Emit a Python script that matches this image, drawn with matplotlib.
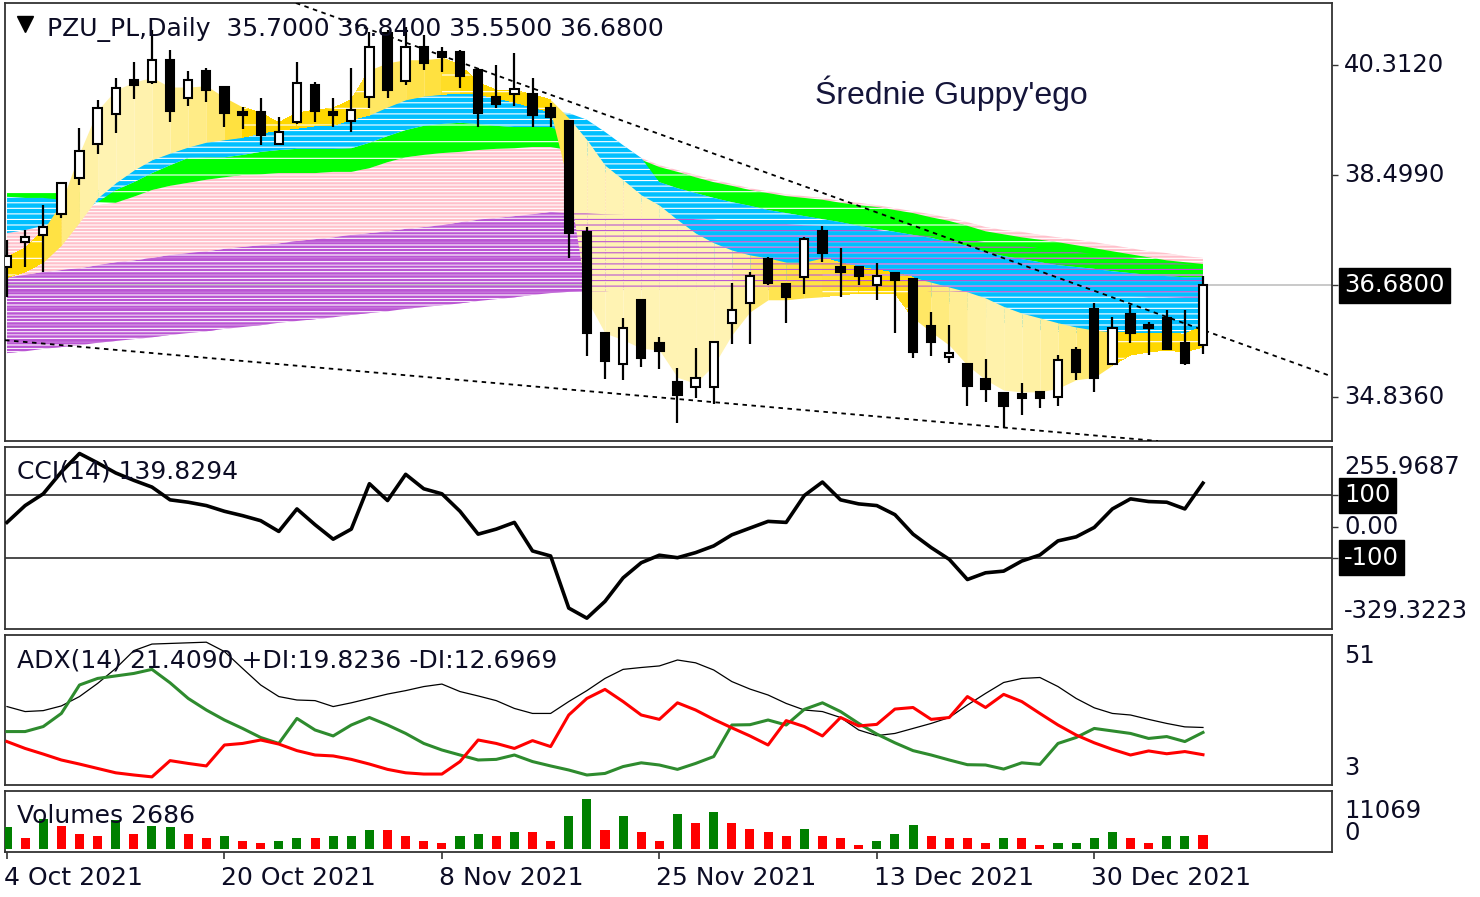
import matplotlib
matplotlib.use("Agg")
import matplotlib.pyplot as plt
import matplotlib.transforms as mtransforms
import matplotlib.colors as mcolors
import numpy as np

# --- dane: świece dzienne PZU_PL (4 Oct 2021 - 4 Jan 2022) ---
date_labels = ["4 Oct 2021", "20 Oct 2021", "8 Nov 2021", "25 Nov 2021", "13 Dec 2021", "30 Dec 2021"]
date_bars = [0, 12, 24, 36, 48, 60]

opens = [36.98, 37.39, 37.51, 37.85, 38.45, 39.01, 39.50, 40.07, 40.03, 40.39,
         39.77, 40.21, 39.95, 39.54, 39.54, 39.01, 39.37, 39.98, 39.54, 39.39,
         39.78, 40.84, 40.05, 40.61, 40.53, 40.53, 40.23, 39.78, 39.83, 39.83,
         39.60, 39.39, 37.56, 35.89, 35.38, 36.43, 35.72, 35.08, 35.00, 35.00,
         36.05, 36.38, 37.11, 36.70, 36.81, 37.57, 36.98, 36.98, 36.68, 36.88,
         36.78, 36.00, 35.49, 35.38, 35.13, 34.90, 34.88, 34.92, 34.83, 35.61,
         36.29, 35.38, 36.20, 36.02, 36.14, 35.72, 35.70]
highs = [37.42, 37.59, 38.00, 38.37, 39.27, 39.74, 40.10, 40.36, 40.89, 40.56,
         40.21, 40.26, 39.95, 39.62, 39.77, 39.45, 40.36, 40.03, 39.77, 40.26,
         40.86, 40.89, 40.94, 40.81, 40.61, 40.56, 40.26, 40.31, 40.51, 40.10,
         39.69, 39.39, 37.64, 35.89, 36.14, 36.43, 35.82, 35.31, 35.64, 35.74,
         36.71, 36.90, 37.14, 36.70, 37.47, 37.66, 37.29, 36.98, 37.04, 36.88,
         36.78, 36.24, 36.02, 35.38, 35.46, 34.90, 35.06, 34.92, 35.53, 35.66,
         36.38, 36.15, 36.35, 36.07, 36.27, 36.27, 36.84]
lows = [36.48, 36.98, 36.90, 37.79, 38.33, 38.84, 39.19, 39.75, 40.00, 39.37,
        39.64, 39.70, 39.29, 39.26, 38.99, 39.01, 39.34, 39.37, 39.29, 39.21,
        39.60, 39.77, 39.98, 40.23, 40.20, 39.93, 39.29, 39.60, 39.64, 39.29,
        39.29, 37.13, 35.51, 35.13, 35.11, 35.33, 35.30, 34.40, 34.82, 34.72,
        35.71, 35.71, 36.68, 36.05, 36.53, 37.06, 36.48, 36.68, 36.43, 35.89,
        35.48, 35.51, 35.39, 34.69, 34.75, 34.32, 34.54, 34.65, 34.69, 35.11,
        34.92, 35.38, 35.72, 35.53, 35.61, 35.36, 35.55]
closes = [37.16, 37.47, 37.64, 38.36, 38.89, 39.60, 39.93, 39.98, 40.39, 39.55,
          40.07, 39.90, 39.52, 39.49, 39.16, 39.21, 40.02, 39.55, 39.49, 39.57,
          40.61, 39.90, 40.61, 40.35, 40.44, 40.13, 39.52, 39.67, 39.92, 39.49,
          39.45, 37.54, 35.89, 35.43, 35.97, 35.48, 35.59, 34.87, 35.15, 35.74,
          36.27, 36.83, 36.71, 36.48, 37.44, 37.21, 36.90, 36.83, 36.83, 36.76,
          35.58, 35.74, 35.56, 35.02, 34.97, 34.69, 34.82, 34.82, 35.44, 35.25,
          35.15, 35.97, 35.89, 35.97, 35.63, 35.39, 36.68]

# --- wstęgi Guppy'ego: górna i dolna krawędź każdej grupy (odczyt z wykresu) ---
yellow_hi = [37.14, 37.29, 37.59, 38.04, 38.86, 39.57, 39.90, 40.03, 40.11, 39.95,
             39.95, 39.97, 39.78, 39.62, 39.52, 39.36, 39.52, 39.57, 39.60, 39.74,
             40.23, 40.35, 40.40, 40.40, 40.43, 40.31, 40.02, 39.90, 39.90, 39.82,
             39.74, 39.44, 39.08, 38.66, 38.42, 38.17, 38.00, 37.76, 37.54, 37.38,
             37.26, 37.18, 37.13, 37.06, 37.06, 37.13, 37.05, 36.98, 36.93, 36.88,
             36.81, 36.73, 36.65, 36.57, 36.47, 36.33, 36.22, 36.14, 36.06, 35.99,
             35.94, 35.91, 35.89, 35.89, 35.89, 35.87, 36.01]
yellow_lo = [36.81, 36.90, 37.06, 37.34, 37.72, 38.12, 38.37, 38.58, 38.75, 38.86,
             38.96, 39.04, 39.08, 39.12, 39.19, 39.24, 39.27, 39.31, 39.32, 39.41,
             39.49, 39.62, 39.74, 39.80, 39.83, 39.85, 39.83, 39.77, 39.70, 39.62,
             39.54, 38.33, 36.44, 35.89, 35.78, 35.64, 35.61, 35.16, 35.06, 35.36,
             35.86, 36.24, 36.44, 36.44, 36.47, 36.49, 36.52, 36.55, 36.55, 36.55,
             36.14, 35.91, 35.69, 35.36, 35.12, 34.95, 34.92, 34.92, 34.98, 35.12,
             35.16, 35.36, 35.53, 35.58, 35.61, 35.58, 35.66]
blue_hi = [38.14, 38.12, 38.12, 38.09, 38.09, 38.17, 38.37, 38.58, 38.75, 38.86,
           38.96, 39.04, 39.08, 39.12, 39.19, 39.24, 39.27, 39.31, 39.32, 39.41,
           39.49, 39.62, 39.74, 39.80, 39.83, 39.85, 39.83, 39.77, 39.70, 39.62,
           39.54, 39.52, 39.41, 39.21, 38.99, 38.78, 38.38, 38.28, 38.20, 38.12,
           38.05, 37.99, 37.92, 37.87, 37.82, 37.77, 37.72, 37.66, 37.61, 37.56,
           37.51, 37.46, 37.39, 37.33, 37.23, 37.16, 37.11, 37.06, 37.01, 36.98,
           36.95, 36.91, 36.88, 36.85, 36.83, 36.81, 36.81]
blue_lo = [37.54, 37.59, 37.66, 37.76, 37.89, 38.05, 38.25, 38.38, 38.53, 38.66,
           38.78, 38.79, 38.79, 38.83, 38.88, 38.91, 38.93, 38.93, 38.93, 38.94,
           39.03, 39.14, 39.24, 39.31, 39.34, 39.36, 39.34, 39.31, 39.29, 39.29,
           39.29, 39.16, 38.83, 38.55, 38.30, 38.03, 37.80, 37.56, 37.34, 37.13,
           37.01, 36.90, 36.81, 36.75, 36.71, 36.70, 36.68, 36.66, 36.65, 36.62,
           36.57, 36.48, 36.38, 36.27, 36.15, 36.06, 35.99, 35.94, 35.91, 35.89,
           35.89, 35.89, 35.89, 35.89, 35.89, 35.89, 35.94]
green_hi = [38.20, 38.20, 38.20, 38.20, 38.22, 38.25, 38.25, 38.38, 38.53, 38.66,
            38.78, 38.79, 38.79, 38.83, 38.88, 38.91, 38.93, 38.93, 38.93, 38.94,
            39.03, 39.14, 39.24, 39.31, 39.34, 39.36, 39.34, 39.31, 39.29, 39.29,
            39.29, 39.27, 39.19, 39.08, 38.91, 38.75, 38.63, 38.55, 38.46, 38.38,
            38.32, 38.25, 38.20, 38.15, 38.12, 38.09, 38.04, 38.00, 37.97, 37.92,
            37.87, 37.80, 37.74, 37.66, 37.57, 37.52, 37.47, 37.43, 37.39, 37.34,
            37.29, 37.24, 37.19, 37.14, 37.09, 37.06, 37.03]
green_lo = [38.12, 38.10, 38.09, 38.09, 38.07, 38.05, 38.04, 38.14, 38.25, 38.32,
            38.37, 38.42, 38.46, 38.50, 38.51, 38.53, 38.53, 38.53, 38.55, 38.55,
            38.61, 38.71, 38.79, 38.83, 38.86, 38.88, 38.91, 38.93, 38.94, 38.96,
            38.96, 38.91, 38.83, 38.75, 38.63, 38.50, 38.38, 38.28, 38.20, 38.12,
            38.05, 37.99, 37.92, 37.87, 37.82, 37.77, 37.72, 37.66, 37.61, 37.56,
            37.51, 37.46, 37.39, 37.33, 37.23, 37.16, 37.11, 37.06, 37.01, 36.98,
            36.95, 36.91, 36.88, 36.85, 36.83, 36.81, 36.81]
pink_hi = [37.84, 37.87, 37.90, 37.94, 37.97, 38.00, 38.04, 38.14, 38.25, 38.32,
           38.37, 38.42, 38.46, 38.50, 38.51, 38.53, 38.53, 38.53, 38.55, 38.55,
           38.61, 38.71, 38.79, 38.83, 38.86, 38.88, 38.91, 38.93, 38.94, 38.96,
           38.96, 38.96, 38.94, 38.91, 38.86, 38.78, 38.66, 38.58, 38.50, 38.42,
           38.35, 38.28, 38.23, 38.18, 38.15, 38.12, 38.07, 38.04, 38.00, 37.95,
           37.90, 37.85, 37.79, 37.72, 37.64, 37.59, 37.56, 37.51, 37.47, 37.43,
           37.39, 37.34, 37.29, 37.24, 37.21, 37.16, 37.13]
pink_lo = [36.81, 36.85, 36.90, 36.93, 36.96, 37.01, 37.06, 37.09, 37.13, 37.18,
           37.21, 37.24, 37.28, 37.31, 37.34, 37.37, 37.41, 37.44, 37.47, 37.51,
           37.54, 37.57, 37.61, 37.64, 37.67, 37.72, 37.76, 37.79, 37.82, 37.85,
           37.89, 37.87, 37.84, 37.79, 37.74, 37.69, 37.64, 37.57, 37.51, 37.46,
           37.43, 37.39, 37.36, 37.34, 37.33, 37.31, 37.29, 37.28, 37.26, 37.24,
           37.21, 37.18, 37.14, 37.09, 37.05, 37.00, 36.96, 36.93, 36.90, 36.86,
           36.83, 36.80, 36.78, 36.77, 36.75, 36.73, 36.71]
violet_hi = [36.81, 36.85, 36.90, 36.93, 36.96, 37.01, 37.06, 37.09, 37.13, 37.18,
             37.21, 37.24, 37.28, 37.31, 37.34, 37.37, 37.41, 37.44, 37.47, 37.51,
             37.54, 37.57, 37.61, 37.64, 37.67, 37.72, 37.76, 37.79, 37.82, 37.85,
             37.89, 37.89, 37.87, 37.85, 37.84, 37.82, 37.80, 37.79, 37.77, 37.76,
             37.74, 37.72, 37.70, 37.69, 37.67, 37.66, 37.64, 37.62, 37.59, 37.56,
             37.52, 37.49, 37.46, 37.43, 37.39, 37.36, 37.33, 37.29, 37.26, 37.23,
             37.19, 37.16, 37.13, 37.09, 37.06, 37.03, 37.00]
violet_lo = [35.56, 35.59, 35.63, 35.66, 35.69, 35.73, 35.76, 35.79, 35.82, 35.86,
             35.89, 35.92, 35.96, 35.99, 36.02, 36.06, 36.09, 36.12, 36.15, 36.19,
             36.22, 36.25, 36.29, 36.32, 36.35, 36.38, 36.42, 36.45, 36.48, 36.52,
             36.55, 36.57, 36.58, 36.58, 36.60, 36.60, 36.60, 36.60, 36.60, 36.60,
             36.60, 36.60, 36.60, 36.60, 36.60, 36.60, 36.60, 36.60, 36.60, 36.60,
             36.60, 36.58, 36.58, 36.57, 36.57, 36.55, 36.55, 36.53, 36.53, 36.52,
             36.52, 36.50, 36.50, 36.48, 36.48, 36.47, 36.47]

# linie trendu: (bar, cena) dwóch punktów
upper_trend = [(16.0, 41.33), (72.6, 35.23)]
lower_trend = [(0.0, 35.77), (61.6, 34.16)]

cci = [13.5, 67.6, 105.4, 175.7, 235.1, 204.9, 172.5, 148.7, 127.1, 86.0,
       78.4, 67.6, 49.2, 35.2, 19.0, -15.6, 56.8, 6.0, -40.5, -8.1,
       137.9, 83.8, 168.1, 121.6, 105.4, 49.2, -24.3, -8.1, 13.5, -78.3,
       -94.5, -262.0, -294.5, -240.5, -164.8, -116.2, -92.0, -100.0, -83.7, -62.1,
       -26.5, -4.8, 16.8, 13.5, 100.0, 143.3, 86.0, 73.0, 67.6, 38.4,
       -24.3, -67.5, -105.4, -170.2, -148.6, -143.2, -110.8, -91.3, -45.9, -33.0,
       -2.7, 56.8, 89.2, 80.6, 78.4, 56.8, 139.8294]

adx = [28.1, 26.5, 26.8, 28.3, 31.3, 35.5, 40.3, 46.0, 48.1, 48.3,
       48.5, 48.7, 45.7, 40.3, 35.0, 31.3, 30.2, 30.0, 28.1, 29.3,
       30.7, 32.1, 33.2, 34.5, 35.3, 32.9, 31.5, 30.0, 27.5, 25.9,
       25.9, 29.7, 33.2, 37.1, 40.0, 40.6, 41.1, 43.0, 42.1, 39.8,
       36.1, 33.7, 31.8, 29.1, 27.0, 26.5, 24.6, 20.6, 18.8, 19.5,
       21.1, 22.7, 24.6, 28.6, 32.3, 35.8, 37.1, 37.4, 34.5, 30.7,
       27.7, 25.9, 25.4, 24.0, 22.7, 21.6, 21.409]
plus_di = [20.1, 20.1, 21.7, 25.9, 35.0, 37.1, 37.9, 38.7, 40.0, 35.7,
           30.7, 27.0, 23.8, 21.1, 18.2, 16.3, 24.3, 20.6, 18.7, 22.2,
           24.6, 22.2, 19.5, 16.3, 14.2, 12.6, 11.0, 11.2, 12.6, 10.5,
           9.1, 7.8, 6.2, 6.7, 8.9, 10.1, 9.4, 8.0, 9.9, 12.1,
           22.2, 22.3, 23.8, 22.2, 27.2, 29.3, 26.5, 22.7, 19.3, 16.5,
           14.0, 12.6, 11.0, 9.5, 9.4, 8.1, 10.1, 9.6, 16.3, 18.2,
           21.1, 20.3, 19.5, 17.9, 18.5, 16.9, 19.8236]
minus_di = [16.9, 14.7, 12.9, 11.0, 9.7, 8.3, 6.9, 6.2, 5.6, 10.8,
            9.9, 9.1, 15.8, 16.3, 17.4, 16.1, 14.0, 12.6, 12.3, 11.2,
            9.7, 8.0, 6.9, 6.5, 6.5, 10.5, 17.4, 16.3, 14.7, 17.2,
            15.3, 25.4, 30.7, 33.6, 29.7, 25.4, 24.0, 29.3, 27.0, 24.0,
            21.3, 18.7, 15.8, 23.6, 21.7, 18.7, 24.6, 21.9, 22.4, 27.3,
            27.8, 24.0, 24.6, 31.3, 27.8, 32.0, 29.7, 25.9, 22.2, 19.0,
            16.5, 14.4, 12.6, 13.9, 13.0, 13.7, 12.6969]

volumes = [4150, 2110, 5830, 4460, 2910, 2480, 5520, 2910, 4460, 4150,
           2910, 2110, 2480, 1670, 1240, 1670, 2110, 2110, 2480, 2480,
           3720, 3720, 2480, 1670, 1240, 2480, 2910, 2480, 3350, 3350,
           1670, 6320, 9610, 3720, 6320, 3350, 1670, 6760, 5080, 7130,
           5080, 3840, 3350, 2480, 3840, 2480, 2110, 870, 1670, 2910,
           4590, 2480, 2110, 2110, 1240, 2110, 2110, 870, 1240, 1240,
           2110, 3350, 2110, 1240, 2480, 2480, 2686]
volume_up = [1, 0, 1, 0, 0, 0, 1, 0, 1, 1, 0, 0, 1, 0, 0, 1, 1, 0, 1, 1,
             1, 0, 0, 0, 0, 1, 1, 0, 1, 0, 0, 1, 1, 0, 1, 0, 0, 1, 0, 1,
             0, 0, 0, 0, 1, 0, 0, 0, 1, 1, 1, 0, 0, 0, 0, 1, 0, 0, 1, 1,
             1, 1, 0, 0, 1, 1, 0]

# --- rysowanie ---
plt.rcParams["font.family"] = ["DejaVu Sans"]
plt.rcParams["hatch.linewidth"] = 0.8
TXT = "#0c0c24"

W, H = 1480, 897
fig = plt.figure(figsize=(W / 100, H / 100), dpi=100)


def panel(top, bottom):
    return fig.add_axes([5 / W, 1 - bottom / H, 1327 / W, (bottom - top) / H])


ax1 = panel(3, 441)
ax2 = panel(447, 629)
ax3 = panel(635, 785)
ax4 = panel(791, 852)

for ax in (ax1, ax2, ax3, ax4):
    ax.set_xlim(-0.11, 73.12)
    ax.set_xticks([])
    ax.yaxis.tick_right()
    ax.tick_params(axis="y", direction="out", length=4, width=1, colors="#333333", labelright=False)
    for s in ax.spines.values():
        s.set_color("#333333")
        s.set_linewidth(1.3)

offset = mtransforms.ScaledTranslation(12 / 100, 0, fig.dpi_scale_trans)


def rlabel(ax, y, s, data=True, box=False):
    tr = mtransforms.blended_transform_factory(ax.transAxes, ax.transData if data else ax.transAxes)
    kw = dict(fontsize=17.5, va="center", ha="left", color=TXT, transform=tr + offset, clip_on=False)
    if box:
        kw.update(color="white", bbox=dict(boxstyle="square,pad=0.22", fc="black", ec="black"))
    ax.text(1.0, y, s, **kw)


x = np.arange(len(closes))


def fan(ax, hi, lo, col, z, dense_w):
    # szeroki wachlarz = rzadkie linie -> kolor rozjaśniony bielą
    rgb = np.array(mcolors.to_rgb(col))
    for i in range(len(hi) - 1):
        w = 0.5 * (abs(hi[i] - lo[i]) + abs(hi[i + 1] - lo[i + 1]))
        d = min(1.0, max(0.3, dense_w / w))
        ax.fill_between([i, i + 1], hi[i:i + 2], lo[i:i + 2], facecolor=rgb * d + (1 - d),
                        edgecolor="white", hatch="-" if d > 0.75 else None,
                        linewidth=0, antialiased=False, zorder=z)


# wstęgi średnich
ax1.fill_between(x, violet_hi, violet_lo, facecolor="#BA55D3", edgecolor="white", hatch="-----",
                 linewidth=0, zorder=1.5)
ax1.fill_between(x, pink_hi, pink_lo, facecolor="#FFC0CB", edgecolor="white", hatch="-----",
                 linewidth=0, zorder=2)
ax1.fill_between(x, green_hi, green_lo, facecolor="#00FF00", edgecolor="white", hatch="-",
                 linewidth=0, zorder=2.1)
ax1.fill_between(x, blue_hi, blue_lo, facecolor="#00BFFF", edgecolor="white", hatch="---",
                 linewidth=0, zorder=2.2)
fan(ax1, yellow_hi, yellow_lo, "#FFD700", 2.3, 0.45)
# fioletowe linie prześwitujące przez pozostałe grupy
ax1.fill_between(x, violet_hi, violet_lo, facecolor="none", edgecolor="#BA55D3", hatch="---",
                 linewidth=0, zorder=2.5)

ax1.axhline(closes[-1], color="#C0C0C0", lw=1.2, zorder=1.8)
ax1.axline(*upper_trend, color="black", lw=1.3, ls=(0, (2.5, 2.5)), zorder=4)
ax1.axline(*lower_trend, color="black", lw=1.3, ls=(0, (2.5, 2.5)), zorder=4)

# świece
o, h, l, c = map(np.array, (opens, highs, lows, closes))
ax1.vlines(x, l, h, color="black", lw=1.6, zorder=5)
ax1.bar(x, np.maximum(np.abs(c - o), 0.03), bottom=np.minimum(o, c), width=0.46,
        color=np.where(c >= o, "white", "black"), edgecolor="black", linewidth=1.5, zorder=6)

ax1.set_ylim(34.11, 41.336)
main_ticks = [40.312, 38.499, closes[-1], 34.836]
ax1.set_yticks(main_ticks)
for v in main_ticks:
    rlabel(ax1, v, f"{v:.4f}", box=(v == closes[-1]))

ax1.plot([0.0151], [0.952], marker="v", ms=11, color="black", transform=ax1.transAxes, zorder=10)
ax1.text(0.0317, 0.94, f"PZU_PL,Daily  {opens[-1]:.4f} {highs[-1]:.4f} {lows[-1]:.4f} {closes[-1]:.4f}",
         transform=ax1.transAxes, fontsize=18, va="center", ha="left", color=TXT, zorder=10)
ax1.text(0.6104, 0.7945, "Średnie Guppy'ego", transform=ax1.transAxes, fontsize=23,
         family=["Liberation Sans", "DejaVu Sans"], va="center", ha="left", color="#15153a", zorder=10)

# CCI
ax2.plot(x, cci, color="black", lw=2.6, zorder=3)
ax2.axhline(100, color="#1a1a1a", lw=1.1)
ax2.axhline(-100, color="#1a1a1a", lw=1.1)
ax2.set_ylim(-329.3223, 255.9687)
ax2.set_yticks([100, 0, -100])
rlabel(ax2, 0.89, "255.9687", data=False)
rlabel(ax2, 100, "100", box=True)
rlabel(ax2, 0, "0.00")
rlabel(ax2, -100, "-100", box=True)
rlabel(ax2, 0.099, "-329.3223", data=False)
ax2.text(0.009, 0.868, f"CCI(14) {cci[-1]:.4f}", transform=ax2.transAxes, fontsize=18,
         va="center", ha="left", color=TXT, zorder=10)

# ADX
ax3.plot(x, adx, color="black", lw=0.9, zorder=3)
ax3.plot(x, plus_di, color="#2E8B2E", lw=2.2, zorder=3)
ax3.plot(x, minus_di, color="#FF0000", lw=2.2, zorder=3)
ax3.set_ylim(3, 51)
ax3.set_yticks([])
rlabel(ax3, 0.86, "51", data=False)
rlabel(ax3, 0.113, "3", data=False)
ax3.text(0.009, 0.833, f"ADX(14) {adx[-1]:.4f} +DI:{plus_di[-1]:.4f} -DI:{minus_di[-1]:.4f}",
         transform=ax3.transAxes, fontsize=18, va="center", ha="left", color=TXT, zorder=10)

# wolumen
ax4.bar(x, volumes, width=0.5, color=["#008000" if u else "#FF0000" for u in volume_up], zorder=3)
ax4.set_ylim(-500, 11069)
ax4.set_yticks([])
rlabel(ax4, 0.672, "11069", data=False)
rlabel(ax4, 0.311, "0", data=False)
ax4.text(0.009, 0.59, f"Volumes {volumes[-1]}", transform=ax4.transAxes, fontsize=18,
         va="center", ha="left", color=TXT, zorder=10)

ax4.set_xticks(date_bars)
ax4.tick_params(axis="x", direction="out", length=5, width=1.2, colors="#333333", labelbottom=False)
date_tr = mtransforms.blended_transform_factory(ax4.transData, ax4.transAxes) + \
    mtransforms.ScaledTranslation(-3 / 100, 0, fig.dpi_scale_trans)
for b, s in zip(date_bars, date_labels):
    ax4.text(b, -0.43, s, transform=date_tr, fontsize=18, ha="left", va="center", color=TXT, clip_on=False)

fig.savefig("out.png", dpi=100, facecolor="white")
